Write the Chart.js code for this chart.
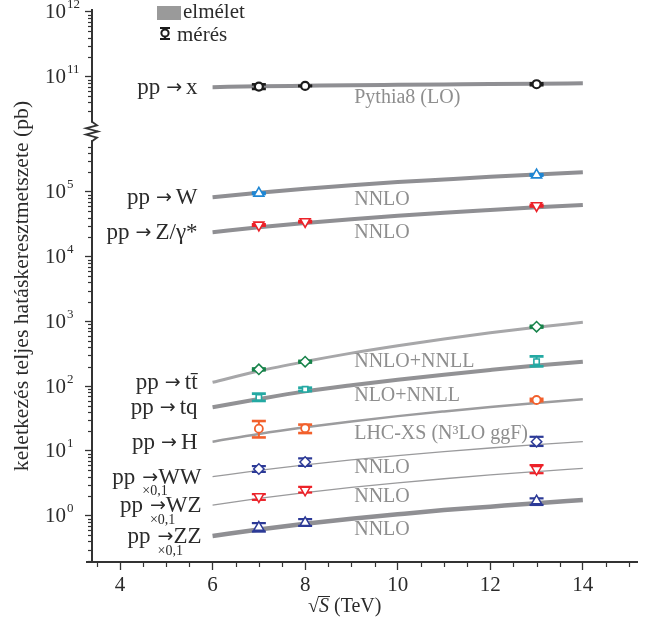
<!DOCTYPE html>
<html lang="hu">
<head>
<meta charset="utf-8">
<title>Teljes hatáskeresztmetszetek az LHC-n</title>
<script src="https://cdn.jsdelivr.net/npm/chart.js@4.4.1/dist/chart.umd.min.js"></script>
<style>
  html, body { margin: 0; padding: 0; background: #fff; }
  canvas { display: block; }
</style>
</head>
<body>
<canvas id="c" width="648" height="623"></canvas>
<script>
// ---- energies (TeV) ----
const energies = [6, 7, 8, 9, 10, 11, 12, 13, 14];
const measuredEnergies = [7, 8, 13];

// ---- theory curves (pb) ----
const thInel = [6.9e10, 7.1e10, 7.25e10, 7.4e10, 7.5e10, 7.6e10, 7.7e10, 7.8e10, 7.9e10];
const thW    = [8.28e4, 9.73e4, 1.12e5, 1.27e5, 1.42e5, 1.56e5, 1.71e5, 1.86e5, 2.01e5];
const thZ    = [2.39e4, 2.85e4, 3.32e4, 3.80e4, 4.29e4, 4.79e4, 5.28e4, 5.79e4, 6.31e4];
const thTT   = [115, 172, 240, 324, 422, 537, 668, 813, 971];
const thTQ   = [47.2, 63.4, 83.2, 103.5, 125.9, 150.7, 177.8, 208, 239];
const thH    = [13.9, 18.3, 23.2, 28.6, 34.5, 40.8, 47.8, 55.1, 62.8];
const thWW   = [4.0, 5.01, 6.11, 7.26, 8.47, 9.75, 11.1, 12.5, 13.9];
const thWZ   = [1.46, 1.85, 2.28, 2.73, 3.21, 3.72, 4.26, 4.81, 5.40];
const thZZ   = [0.485, 0.612, 0.750, 0.895, 1.05, 1.22, 1.38, 1.56, 1.75];

// ---- measurements at 7, 8, 13 TeV (pb): value, lower and upper edge ----
const meInel = [7.03e10, 7.2e10, 7.65e10];
const meInelLo = [6.4e10, 7.1e10, 7.3e10];
const meInelHi = [7.7e10, 7.3e10, 8.0e10];
const meW = [9.55e4, null, 1.83e5];
const meWLo = [9.2e4, null, 1.76e5];
const meWHi = [9.9e4, null, 1.90e5];
const meZ = [3.09e4, 3.48e4, 6.14e4];
const meZLo = [2.98e4, 3.36e4, 5.9e4];
const meZHi = [3.2e4, 3.6e4, 6.4e4];
const meTT = [182, 239, 830];
const meTTLo = [174, 229, 795];
const meTTHi = [190, 249, 866];
const meTQ = [67.4, 89.6, 239];
const meTQLo = [58.5, 83, 200];
const meTQHi = [77.8, 96, 293];
const meH = [22.1, 22.4, 61.2];
const meHLo = [16.0, 18.7, 58];
const meHHi = [29.3, 25.8, 64.5];
const meWW = [5.26, 6.75, 13.9];
const meWWLo = [4.73, 5.86, 11.9];
const meWWHi = [5.86, 7.71, 16.6];
const meWZ = [1.97, 2.49, 5.21];
const meWZLo = [1.75, 2.27, 4.52];
const meWZHi = [2.16, 2.80, 6.07];
const meZZ = [0.662, 0.780, 1.69];
const meZZLo = [0.566, 0.693, 1.46];
const meZZHi = [0.771, 0.889, 1.86];

// ---- axis ticks ----
const xMajorTicks = [4, 6, 8, 10, 12, 14];
const yDecadesLower = [0, 1, 2, 3, 4, 5];
const yDecadesUpper = [11, 12];

// The vertical axis is plotted in decades; above the break the scale is shifted down.
const SHIFT = 4.22;
const BREAK_LO = 5.80, BREAK_HI = 6.07;
const Y_MIN = -0.715, Y_MAX = 7.81;
const SERIF = '"Liberation Serif", "Times New Roman", serif';
const ARROW_FONT = '"DejaVu Sans", sans-serif';
const INK = '#2b2b2b';
const NOTE = '#8e8e8e';

const dec = (v, upper) => Math.log10(v) - (upper ? SHIFT : 0);

const processes = [
  { name: 'x',    th: thInel, me: meInel, lo: meInelLo, hi: meInelHi, upper: true,
    note: 'Pythia8 (LO)', noteDy: 13, mk: 'circle', r: 4, bw: 2.2, c: '#1c1c1c', lw: 4, lc: '#8f8f93', cap: 2.6 },
  { name: 'W',    th: thW, me: meW, lo: meWLo, hi: meWHi,
    note: 'NNLO', noteDy: 15, mk: 'triangle', r: 5.8, bw: 1.6, c: '#1f86d3', lw: 4, lc: '#8f8f93', cap: 2.8 },
  { name: 'Z/γ*', th: thZ, me: meZ, lo: meZLo, hi: meZHi,
    note: 'NNLO', noteDy: 14, mk: 'triangle', rot: 180, r: 5.8, bw: 1.6, c: '#ec2229', lw: 4, lc: '#8f8f93', cap: 2.8 },
  { name: 'tt\u0304', th: thTT, me: meTT, lo: meTTLo, hi: meTTHi,
    note: 'NNLO+NNLL', noteDy: 9, mk: 'rectRot', r: 5.2, bw: 1.5, c: '#17834a', lw: 3, lc: '#a7a7a9', cap: 2.8 },
  { name: 'tq',   th: thTQ, me: meTQ, lo: meTQLo, hi: meTQHi,
    note: 'NLO+NNLL', noteDy: 11, mk: 'rect', r: 3.8, bw: 1.6, c: '#24a9a3', lw: 4, lc: '#929295', cap: 2.8 },
  { name: 'H',    th: thH, me: meH, lo: meHLo, hi: meHHi,
    note: 'LHC-XS (N³LO ggF)', noteDy: 12, mk: 'circle', r: 4, bw: 1.8, c: '#f2602c', lw: 2.5, lc: '#9c9c9e', cap: 2.6 },
  { name: 'WW',   th: thWW, me: meWW, lo: meWWLo, hi: meWWHi, scaled: true,
    note: 'NNLO', noteDy: 8, mk: 'rectRot', r: 5.2, bw: 1.5, c: '#2c3a97', lw: 1.3, lc: '#9a9a9c', cap: 2.2 },
  { name: 'WZ',   th: thWZ, me: meWZ, lo: meWZLo, hi: meWZHi, scaled: true,
    note: 'NNLO', noteDy: 9, mk: 'triangle', rot: 180, r: 5.8, bw: 1.5, c: '#ec2229', lw: 1.3, lc: '#9a9a9c', cap: 2.2 },
  { name: 'ZZ',   th: thZZ, me: meZZ, lo: meZZLo, hi: meZZHi, scaled: true,
    note: 'NNLO', noteDy: 11, mk: 'triangle', r: 5.8, bw: 1.5, c: '#2c3a97', lw: 4.5, lc: '#8f8f93', cap: 2.2 },
];

const datasets = [];
processes.forEach(p => {
  datasets.push({
    label: p.name + ' elmélet',
    data: energies.map((e, i) => ({ x: e, y: dec(p.th[i], p.upper) })),
    borderColor: p.lc, borderWidth: p.lw, pointRadius: 0,
    tension: 0.4, cubicInterpolationMode: 'monotone', fill: false, order: 2
  });
  const pts = [], lo = [], hi = [];
  measuredEnergies.forEach((e, i) => {
    if (p.me[i] == null) return;
    pts.push({ x: e, y: dec(p.me[i], p.upper) });
    lo.push(dec(p.lo[i], p.upper));
    hi.push(dec(p.hi[i], p.upper));
  });
  datasets.push({
    label: p.name + ' mérés',
    data: pts, errLo: lo, errHi: hi, errColor: p.c, capWidth: p.cap,
    showLine: false, pointStyle: p.mk, pointRotation: p.rot || 0,
    pointRadius: p.r, pointBorderWidth: p.bw,
    pointBackgroundColor: '#ffffff', pointBorderColor: p.c, order: 0
  });
});

function line(ctx, x1, y1, x2, y2) {
  ctx.beginPath(); ctx.moveTo(x1, y1); ctx.lineTo(x2, y2); ctx.stroke();
}

// "pp → name" with the arrow set in a separate face; optional ×0,1 under the arrow
function processLabel(ctx, name, R, cy, scaled) {
  ctx.textBaseline = 'middle';
  ctx.textAlign = 'right';
  ctx.font = `23px ${SERIF}`;
  ctx.fillText(name, R, cy);
  const wName = ctx.measureText(name).width;
  const arrowR = R - wName - (scaled ? 0 : 4);
  ctx.font = `19px ${ARROW_FONT}`;
  ctx.fillText('→', arrowR, cy);
  const wArrow = ctx.measureText('→').width;
  const arrowL = arrowR - wArrow;
  ctx.font = `23px ${SERIF}`;
  ctx.fillText('pp', arrowL - (scaled ? 7 : 6), cy);
  if (scaled) {
    ctx.font = `14px ${SERIF}`;
    ctx.textAlign = 'left';
    ctx.fillText('×0,1', arrowL, cy + 14);
  }
}

const decorations = {
  id: 'decorations',
  beforeDatasetDraw(chart, args) {
    const ds = chart.data.datasets[args.index];
    if (!ds.errLo) return;
    const { ctx, scales: { x, y } } = chart;
    ctx.save();
    ctx.strokeStyle = ds.errColor;
    ds.data.forEach((pt, i) => {
      const px = x.getPixelForValue(pt.x);
      const yl = y.getPixelForValue(ds.errLo[i]);
      const yh = y.getPixelForValue(ds.errHi[i]);
      ctx.lineWidth = 2;
      line(ctx, px, yl, px, yh);
      ctx.lineWidth = ds.capWidth;
      const off = ds.capWidth / 2 - 1;
      line(ctx, px - 7, yl - off, px + 7, yl - off);
      line(ctx, px - 7, yh + off, px + 7, yh + off);
    });
    ctx.restore();
  },
  afterDraw(chart) {
    const { ctx, chartArea: a, scales: { x, y } } = chart;
    ctx.save();
    ctx.strokeStyle = '#333';
    ctx.fillStyle = INK;

    // minor ticks on the vertical axis
    ctx.lineWidth = 1.2;
    const minor = [];
    for (let n = -1; n <= 5; n++)
      for (let k = 2; k <= 9; k++) {
        const d = n + Math.log10(k);
        if (d >= Y_MIN && d <= BREAK_LO - 0.06) minor.push(d);
      }
    for (let n = 10; n <= 11; n++)
      for (let k = 2; k <= 9; k++) {
        const d = n + Math.log10(k) - SHIFT;
        if (d >= BREAK_HI + 0.06 && d <= Y_MAX) minor.push(d);
      }
    minor.forEach(d => {
      const py = Math.round(y.getPixelForValue(d)) + 0.5;
      line(ctx, a.left - 4, py, a.left, py);
    });

    // minor ticks on the horizontal axis
    for (let i = 7; i <= 30; i++) {
      const v = i / 2;
      if (v % 2 === 0) continue;
      const px = Math.round(x.getPixelForValue(v)) + 0.5;
      line(ctx, px, a.bottom, px, a.bottom + 5);
    }
    ctx.lineWidth = 2;
    line(ctx, a.left - 6, a.bottom, a.left, a.bottom);

    // axis break
    const yTop = y.getPixelForValue(BREAK_HI), yBot = y.getPixelForValue(BREAK_LO);
    ctx.fillStyle = '#fff';
    ctx.fillRect(a.left - 9, yTop, 18, yBot - yTop);
    ctx.lineWidth = 1.8;
    ctx.beginPath();
    const h = yBot - yTop;
    ctx.moveTo(a.left, yTop - 1);
    ctx.lineTo(a.left + 5, yTop + h * 0.15);
    ctx.lineTo(a.left - 6, yTop + h * 0.32);
    ctx.lineTo(a.left + 6, yTop + h * 0.5);
    ctx.lineTo(a.left - 6, yTop + h * 0.68);
    ctx.lineTo(a.left + 5, yTop + h * 0.85);
    ctx.lineTo(a.left, yBot + 1);
    ctx.stroke();

    // decade labels 10^n
    ctx.fillStyle = INK;
    const decadeLabel = (n, d) => {
      const py = y.getPixelForValue(d);
      ctx.font = `21px ${SERIF}`;
      ctx.textAlign = 'left'; ctx.textBaseline = 'middle';
      ctx.fillText('10', 45, py + 1);
      const w = ctx.measureText('10').width;
      ctx.font = `13px ${SERIF}`;
      ctx.fillText(String(n), 45 + w + 1, py - 7);
    };
    yDecadesLower.forEach(n => decadeLabel(n, n));
    yDecadesUpper.forEach(n => decadeLabel(n, n - SHIFT));

    // process labels and theory notes
    const xStart = x.getPixelForValue(energies[0]);
    processes.forEach(p => {
      const cy = y.getPixelForValue(dec(p.th[0], p.upper));
      ctx.fillStyle = INK;
      processLabel(ctx, p.name, xStart - (p.scaled ? 11 : 15), cy + 1, p.scaled);
      const ny = y.getPixelForValue(dec(p.th[3], p.upper)) + p.noteDy;
      ctx.fillStyle = NOTE;
      ctx.font = `20px ${SERIF}`;
      ctx.textAlign = 'left';
      ctx.textBaseline = 'middle';
      ctx.fillText(p.note, x.getPixelForValue(9.06), ny);
    });

    // legend
    ctx.fillStyle = '#9a9a9a';
    ctx.fillRect(157, 6, 24, 14);
    ctx.fillStyle = INK;
    ctx.font = `21px ${SERIF}`;
    ctx.textAlign = 'left'; ctx.textBaseline = 'middle';
    ctx.fillText('elmélet', 183, 12);
    ctx.fillText('mérés', 177, 35);
    ctx.strokeStyle = '#1c1c1c';
    ctx.lineWidth = 2;
    line(ctx, 165, 28, 165, 39);
    line(ctx, 160, 28, 170, 28);
    line(ctx, 160, 39, 170, 39);
    ctx.fillStyle = '#fff';
    ctx.lineWidth = 2;
    ctx.beginPath(); ctx.arc(165, 33, 3.6, 0, Math.PI * 2); ctx.fill(); ctx.stroke();

    // horizontal axis title: √S (TeV)
    ctx.fillStyle = INK;
    ctx.font = `20px ${SERIF}`;
    ctx.textAlign = 'left'; ctx.textBaseline = 'alphabetic';
    let tx = 308;
    const base = 612;
    ctx.fillText('√', tx, base);
    tx += ctx.measureText('√').width;
    ctx.font = `italic 20px ${SERIF}`;
    ctx.fillText('S', tx, base);
    const wS = ctx.measureText('S').width;
    ctx.lineWidth = 1;
    ctx.strokeStyle = INK;
    line(ctx, tx - 1, base - 15.5, tx + wS + 1, base - 15.5);
    tx += wS;
    ctx.font = `20px ${SERIF}`;
    ctx.fillText(' (TeV)', tx, base);

    // vertical axis title
    ctx.translate(22, 286);
    ctx.rotate(-Math.PI / 2);
    ctx.textAlign = 'center'; ctx.textBaseline = 'middle';
    ctx.font = `21.7px ${SERIF}`;
    ctx.fillText('keletkezés teljes hatáskeresztmetszete (pb)', 0, 0);
    ctx.restore();
  }
};

new Chart(document.getElementById('c'), {
  type: 'line',
  data: { datasets },
  options: {
    responsive: false,
    animation: false,
    devicePixelRatio: 1,
    layout: { padding: { top: 10, right: 11, left: 0, bottom: 0 } },
    plugins: { legend: { display: false }, tooltip: { enabled: false } },
    scales: {
      x: {
        type: 'linear', min: 3.395, max: 15.17,
        afterBuildTicks: s => { s.ticks = xMajorTicks.map(v => ({ value: v })); },
        afterFit: s => { s.height = 61; },
        grid: { drawOnChartArea: false, tickLength: 8, tickColor: '#333', tickWidth: 1.3 },
        border: { color: '#333', width: 2 },
        ticks: { font: { family: SERIF, size: 21 }, color: INK, padding: 3, maxRotation: 0, autoSkip: false }
      },
      y: {
        type: 'linear', min: Y_MIN, max: Y_MAX,
        afterBuildTicks: s => {
          s.ticks = yDecadesLower.map(v => ({ value: v }))
            .concat(yDecadesUpper.map(v => ({ value: v - SHIFT })));
        },
        afterFit: s => { s.width = 92; },
        grid: { drawOnChartArea: false, tickLength: 7, tickColor: '#333', tickWidth: 1.3 },
        border: { color: '#333', width: 2 },
        ticks: { callback: () => '', padding: 0 }
      }
    }
  },
  plugins: [decorations]
});
</script>
</body>
</html>
